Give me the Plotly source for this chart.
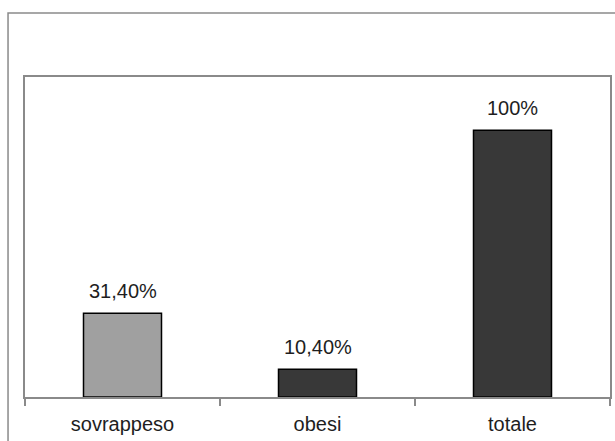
import plotly.graph_objects as go

categories = ["sovrappeso", "obesi", "totale"]
values = [31.4, 10.4, 100]
value_labels = ["31,40%", "10,40%", "100%"]
bar_colors = ["#a0a0a0", "#383838", "#383838"]

FONT = "Liberation Sans, Arial, sans-serif"
TEXT_COLOR = "#1e1e1e"
LINE_GRAY = "#8a8a8a"

fig = go.Figure()
fig.add_trace(go.Bar(
    x=categories,
    y=values,
    width=0.4,
    marker=dict(color=bar_colors, line=dict(color="#000000", width=1.5)),
    hoverinfo="skip",
))

# value labels above each bar
for cat, val, lab in zip(categories, values, value_labels):
    fig.add_annotation(
        x=cat, y=val, text=lab, showarrow=False,
        yanchor="bottom", yshift=9,
        font=dict(family=FONT, size=20, color=TEXT_COLOR),
    )

# outer chart frame
fig.add_shape(
    type="rect", xref="paper", yref="paper",
    x0=-0.029, x1=1.2, y0=-0.4, y1=1.2,
    line=dict(color=LINE_GRAY, width=1.5),
    fillcolor="rgba(0,0,0,0)", layer="below",
)

fig.update_layout(
    width=615, height=441,
    margin=dict(l=25, r=3, t=77, b=44),
    paper_bgcolor="white", plot_bgcolor="white",
    showlegend=False,
    font=dict(family=FONT, size=20, color=TEXT_COLOR),
    xaxis=dict(
        showline=True, linecolor=LINE_GRAY, linewidth=1.5, mirror=True,
        ticks="outside", tickson="boundaries", ticklen=7,
        tickcolor=LINE_GRAY, tickwidth=1.5, ticklabelstandoff=8,
        showgrid=False, zeroline=False,
        tickfont=dict(family=FONT, size=20, color=TEXT_COLOR),
    ),
    yaxis=dict(
        range=[0, 120], showline=True, linecolor=LINE_GRAY, linewidth=1.5,
        mirror=True, showticklabels=False, ticks="", showgrid=False,
        zeroline=False,
    ),
)

fig.write_html("out.html")
